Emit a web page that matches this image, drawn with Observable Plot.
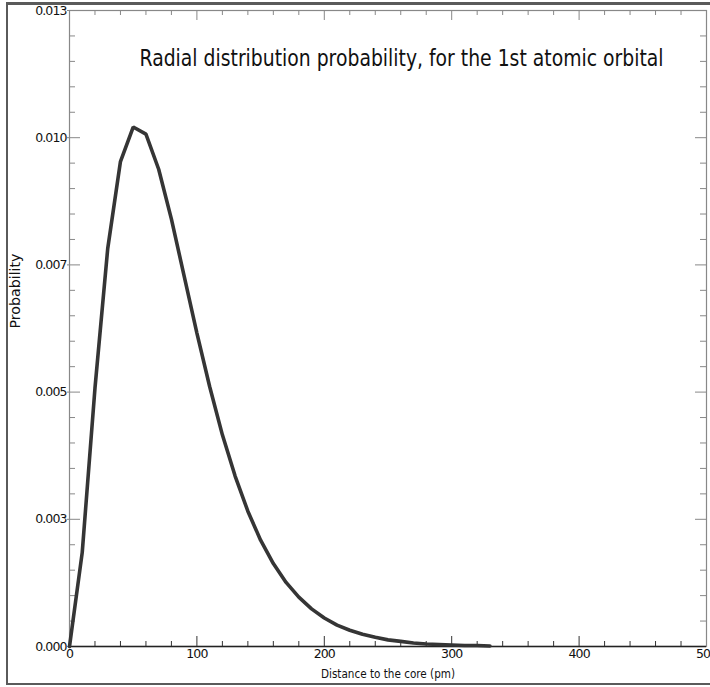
<!DOCTYPE html>
<html>
<head>
<meta charset="utf-8">
<script src="https://cdn.jsdelivr.net/npm/d3@7"></script>
<script src="https://cdn.jsdelivr.net/npm/@observablehq/plot@0.6"></script>
<style>
html, body { margin: 0; padding: 0; background: #fff; }
#wrap { position: relative; width: 710px; height: 687px; overflow: hidden; background: #fff; }
#wrap svg { position: absolute; left: 0; top: 0; }
#border { position: absolute; left: 6px; top: 2px; width: 800px; height: 678px;
  border-left: 2px solid #5a5a5a; border-top: 3px solid #5a5a5a; border-bottom: 2px solid #5a5a5a;
  pointer-events: none; }
</style>
</head>
<body>
<div id="wrap"><div id="border"></div></div>
<script>
// ---- data ----
const distance = [0, 10, 20, 30, 40, 50, 60, 70, 80, 90, 100, 110, 120, 130, 140, 150, 160, 170, 180, 190, 200,
  210, 220, 230, 240, 250, 260, 270, 280, 290, 300, 310, 320, 330];
const probability = [0, 0.00185, 0.00508, 0.00782, 0.00953, 0.01021, 0.01007, 0.00938, 0.00840, 0.00728, 0.00616,
  0.00511, 0.00416, 0.00335, 0.00266, 0.00209, 0.00163, 0.00126, 0.00097, 0.00074, 0.00056,
  0.00042, 0.00032, 0.00024, 0.00018, 0.00013, 0.00010, 0.00007, 0.00005, 0.00004, 0.00003, 0.00002, 0.00002, 0.00001];

const xTickValues = [0, 100, 200, 300, 400, 500];
const xTickLabels = ["0", "100", "200", "300", "400", "500"];
const yTickValues = [0, 0.0025, 0.005, 0.0075, 0.01, 0.0125];
const yTickLabels = ["0.000", "0.003", "0.005", "0.007", "0.010", "0.013"];
const xMinorStep = 20;
const yMinorStep = 0.0005;

const titleText = "Radial distribution probability, for the 1st atomic orbital";
const xTitle = "Distance to the core (pm)";
const yTitle = "Probability";

// ---- layout ----
const W = 710, H = 687;
const mL = 69, mT = 10, mR = 4, mB = 41;
const fw = W - mL - mR, fh = H - mT - mB;

const points = distance.map((d, i) => ({distance: d, probability: probability[i]}));
const xMinor = d3.range(0, 500 + 1e-9, xMinorStep).filter(v => !xTickValues.includes(v));
const yMinor = d3.range(0, 0.0125 + 1e-9, yMinorStep).filter(v => !yTickValues.some(t => Math.abs(t - v) < 1e-9));

const plot = Plot.plot({
  width: W, height: H,
  marginLeft: mL, marginTop: mT, marginRight: mR, marginBottom: mB,
  x: {domain: [0, 500], axis: null},
  y: {domain: [0, 0.0125], axis: null},
  style: {fontFamily: "'DejaVu Sans', sans-serif", background: "transparent", color: "#111"},
  marks: [
    // bottom ticks (inward)
    Plot.tickX(xMinor, {x: d => d, insetTop: fh - 5, stroke: "#333"}),
    Plot.tickX(xTickValues, {x: d => d, insetTop: fh - 10, stroke: "#333"}),
    // top ticks (inward)
    Plot.tickX(xMinor, {x: d => d, insetBottom: fh - 5, stroke: "#888"}),
    Plot.tickX(xTickValues, {x: d => d, insetBottom: fh - 10, stroke: "#888"}),
    // left ticks (inward)
    Plot.tickY(yMinor, {y: d => d, insetRight: fw - 6, stroke: "#888"}),
    Plot.tickY(yTickValues, {y: d => d, insetRight: fw - 11, insetLeft: -2, stroke: "#888"}),
    // right ticks (inward)
    Plot.tickY(yMinor, {y: d => d, insetLeft: fw - 6, stroke: "#888"}),
    Plot.tickY(yTickValues, {y: d => d, insetLeft: fw - 11, stroke: "#888"}),
    Plot.frame({stroke: "#888", strokeWidth: 1.2}),
    Plot.ruleY([0], {stroke: "#222", strokeWidth: 1.5}),
    Plot.line(points, {x: "distance", y: "probability", stroke: "#353535", strokeWidth: 3.6, strokeLinejoin: "miter"}),
    // tick labels
    Plot.text(xTickValues, {x: d => d, text: (d, i) => xTickLabels[i], frameAnchor: "bottom", dy: 11.5, fontSize: 12.5, fill: "#111"}),
    Plot.text(yTickValues, {y: d => d, text: (d, i) => yTickLabels[i], frameAnchor: "left", textAnchor: "end", dx: -3, fontSize: 12.5, fill: "#111"}),
    // titles
    Plot.text([xTitle], {text: d => d, frameAnchor: "bottom", dy: 31, fontSize: 12.5, fill: "#111"}),
    Plot.text([yTitle], {text: d => d, frameAnchor: "left", rotate: -90, dx: -54, fontSize: 13.5, fill: "#111"}),
    Plot.text([titleText], {text: d => d, frameAnchor: "top", dx: 13.5, dy: 39, fontSize: 23, fill: "#111"})
  ]
});

document.getElementById("wrap").insertBefore(plot, document.getElementById("border"));

// condensed text styling
d3.select(plot).selectAll("text").each(function() {
  const t = this.textContent;
  const s = d3.select(this);
  if (t === titleText) s.attr("textLength", 524).attr("lengthAdjust", "spacingAndGlyphs");
  else if (t === xTitle) s.attr("textLength", 134).attr("lengthAdjust", "spacingAndGlyphs");
  else if (t === yTitle) s.attr("textLength", 75).attr("lengthAdjust", "spacingAndGlyphs");
  else s.style("letter-spacing", "-0.9px");
});
</script>
</body>
</html>
